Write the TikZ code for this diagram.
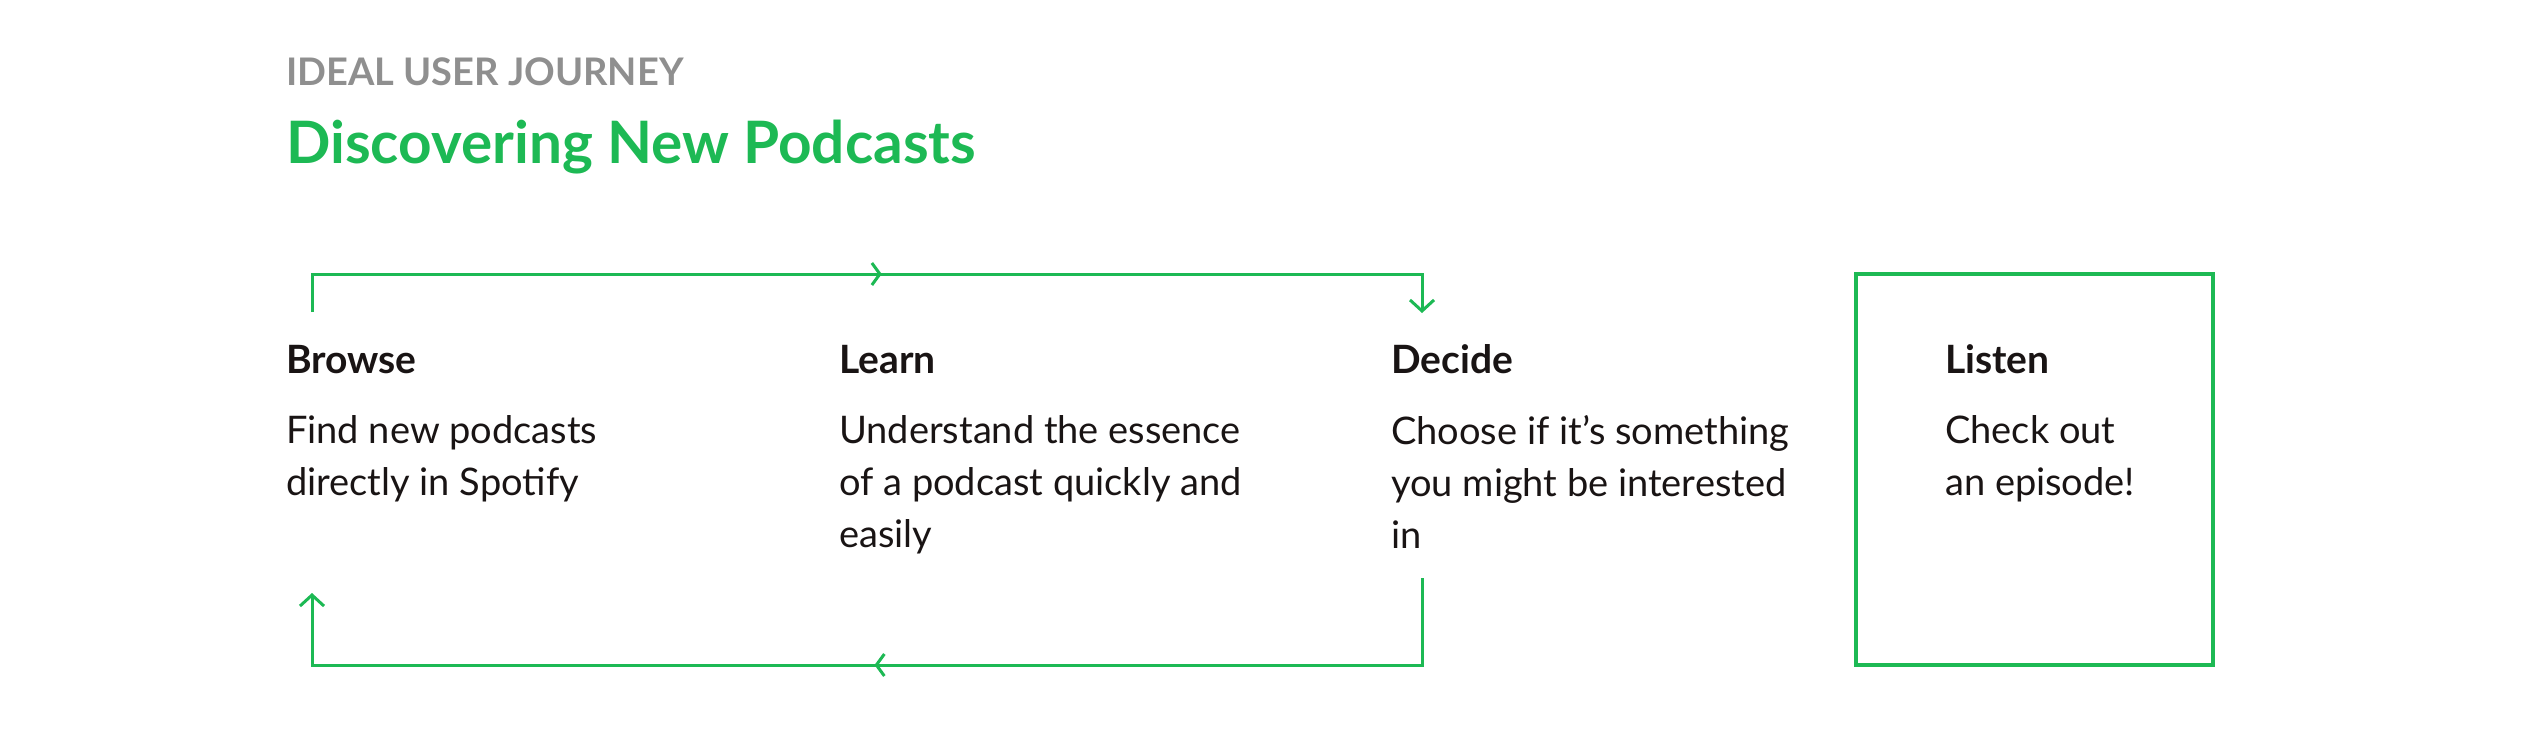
\documentclass[tikz,border=0pt]{standalone}
\usepackage{fontspec}
\setmainfont{Lato}
\usetikzlibrary{arrows.meta,decorations.markings}
\definecolor{spgreen}{HTML}{1DB954}
\definecolor{spgray}{HTML}{8F8F8F}
\definecolor{spblack}{HTML}{191414}

\begin{document}
\begin{tikzpicture}[x=1pt, y=-1pt,
    every node/.style={inner sep=0pt, anchor=base west, text=spblack},
    stagetitle/.style={font=\fontsize{39}{44}\selectfont\bfseries},
    stagetext/.style={anchor=north west, font=\fontsize{38}{52}\selectfont, align=left},
    loopline/.style={spgreen, line width=3pt, -{Straight Barb[length=11pt, width=24pt, line width=3pt]},
        postaction={decorate}},
    midtip/.style={decoration={markings, mark=at position #1 with {\arrow{Straight Barb[length=8pt, width=22pt, line width=3pt]}}}}]
    \useasboundingbox (0,0) rectangle (2548,728);

    \node (kicker) at (286,85) [text=spgray, font=\fontsize{38}{44}\selectfont\bfseries] {IDEAL USER JOURNEY};
    \node (heading) at (286,163) [text=spgreen, font=\fontsize{58.5}{70}\selectfont\bfseries] {Discovering New Podcasts};

    \node (browse) at (286,373) [stagetitle] {Browse};
    \node (learn) at (839,373) [stagetitle] {Learn};
    \node (decide) at (1391,373) [stagetitle] {Decide};
    \node (listen) at (1945,373) [stagetitle] {Listen};

    \node (browsetext) at (286,415.5) [stagetext] {Find new podcasts\\directly in Spotify};
    \node (learntext) at (839,415.5) [stagetext] {Understand the essence\\of a podcast quickly and\\easily};
    \node (decidetext) at (1391,415.5) [stagetext] {Choose if it’s something\\you might be interested\\in};
    \node (listentext) at (1945,415.5) [stagetext] {Check out\\an episode!};

    \coordinate (topstart) at (312,312);
    \coordinate (topend) at (1422,313);
    \coordinate (botstart) at (1422,578);
    \coordinate (botend) at (312,593);

    \draw[loopline, midtip=0.512] (topstart) |- (topend |- 0,274) -- (topend);
    \draw[loopline, midtip=0.5] (botstart) |- (botend |- 0,665) -- (botend);

    \draw[spgreen, line width=3.5pt] (1856,274) rectangle (2213,665);
\end{tikzpicture}
\end{document}
